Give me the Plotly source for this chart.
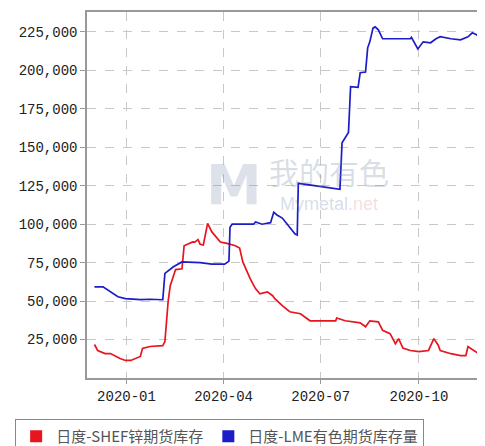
import plotly.graph_objects as go

lme_dates = ["2019-12-02","2019-12-10","2019-12-24","2019-12-31","2020-01-14","2020-01-23","2020-02-04",
             "2020-02-06","2020-02-14","2020-02-22","2020-03-10","2020-03-21","2020-04-02","2020-04-06",
             "2020-04-07","2020-04-09","2020-04-29","2020-05-01","2020-05-07","2020-05-15","2020-05-18",
             "2020-05-21","2020-05-26","2020-06-02","2020-06-07","2020-06-09","2020-06-10","2020-07-19",
             "2020-07-21","2020-07-27","2020-07-29","2020-08-05","2020-08-07","2020-08-12","2020-08-14",
             "2020-08-16","2020-08-19","2020-08-21","2020-08-24","2020-08-28","2020-09-23","2020-09-24",
             "2020-09-30","2020-10-05","2020-10-12","2020-10-17","2020-10-21","2020-10-31","2020-11-09",
             "2020-11-16","2020-11-20","2020-11-24","2020-11-26"]
lme_values = [59300,59300,52800,51600,51000,51200,50900,
              68000,72300,75500,75000,74000,74000,76000,
              98000,100000,100000,101500,100000,101000,107800,
              106000,104000,98000,93600,93000,126600,122700,
              153000,159700,189500,189000,198500,199000,214700,
              218600,227500,228300,226400,220600,220600,221500,
              214000,218600,218000,220600,221900,220600,219900,
              221900,224500,223200,222000]

shfe_dates = ["2019-12-02","2019-12-05","2019-12-12","2019-12-17","2019-12-26","2019-12-31","2020-01-05",
              "2020-01-14","2020-01-16","2020-01-23","2020-02-04","2020-02-06","2020-02-09","2020-02-11",
              "2020-02-14","2020-02-16","2020-02-22","2020-02-24","2020-03-03","2020-03-05","2020-03-08",
              "2020-03-10","2020-03-13","2020-03-17","2020-03-21","2020-03-26","2020-03-29","2020-04-04",
              "2020-04-12","2020-04-16","2020-04-19","2020-04-26","2020-05-01","2020-05-05","2020-05-12",
              "2020-05-17","2020-05-19","2020-05-26","2020-06-02","2020-06-12","2020-06-16","2020-06-21",
              "2020-07-15","2020-07-16","2020-07-24","2020-08-07","2020-08-12","2020-08-14","2020-08-16",
              "2020-08-24","2020-08-28","2020-09-04","2020-09-09","2020-09-12","2020-09-16","2020-09-23",
              "2020-10-01","2020-10-10","2020-10-15","2020-10-19","2020-10-21","2020-10-31","2020-11-09",
              "2020-11-14","2020-11-16","2020-11-20","2020-11-26"]
shfe_values = [21800,17900,15900,15900,12700,11400,11400,
               14000,19200,20500,21000,23700,49600,60000,
               66400,70500,71000,86000,88500,88400,90000,
               87000,86500,100500,95000,90400,88400,87500,
               86000,84500,75500,64500,58000,54800,56000,
               53500,51600,47000,43100,41800,39800,37200,
               37200,39000,37200,35900,33300,35000,37200,
               36500,31000,28800,22300,25600,19500,17900,
               17200,17900,25600,21500,17900,15800,14600,
               14600,20400,18500,15900]

y_ticks = [25000, 50000, 75000, 100000, 125000, 150000, 175000, 200000, 225000]
x_ticks = ["2020-01-01", "2020-04-01", "2020-07-01", "2020-10-01"]
x_labels = ["2020-01", "2020-04", "2020-07", "2020-10"]
series_names = ["日度-SHEF锌期货库存", "日度-LME有色期货库存量"]
colors = ["#e8141e", "#1c1cc8"]

fig = go.Figure()
fig.add_trace(go.Scatter(x=shfe_dates, y=shfe_values, mode="lines",
                         line=dict(color=colors[0], width=1.7), showlegend=False))
fig.add_trace(go.Scatter(x=lme_dates, y=lme_values, mode="lines",
                         line=dict(color=colors[1], width=1.7), showlegend=False))
for name, c in zip(series_names, colors):
    fig.add_trace(go.Scatter(x=[None], y=[None], mode="markers", name=name,
                             marker=dict(symbol="square", size=13, color=c)))

wm = [
    dict(text="我的有色", x=0.61, y=0.565, font=dict(size=30, color="rgba(120,135,160,0.28)",
                                                  family="Noto Sans CJK SC")),
    dict(text="<span style='color:rgba(110,140,190,0.30)'>Mymetal</span><span style='color:rgba(220,120,120,0.25)'>.net</span>",
         x=0.61, y=0.475, font=dict(size=18, family="Arial")),
    dict(text="<b>M</b>", x=0.295, y=0.53, font=dict(size=56, color="rgba(120,140,170,0.25)",
                                                      family="DejaVu Sans")),
]
for a in wm:
    fig.add_annotation(xref="paper", yref="paper", showarrow=False, **a)

# page body has an 8px margin, so the figure is sized/offset to compensate
fig.update_layout(
    width=477, height=438,
    margin=dict(l=79, r=1, t=4, b=68, autoexpand=False),
    paper_bgcolor="white", plot_bgcolor="white",
    font=dict(family="Liberation Mono", size=14, color="#222"),
    legend=dict(orientation="h", x=-0.181, y=-0.112, xanchor="left", yanchor="top",
                bordercolor="#888", borderwidth=1,
                font=dict(family="Noto Sans CJK SC", size=15, color="#555"),
                itemsizing="constant", tracegroupgap=0),
)
fig.update_xaxes(range=["2019-11-25", "2020-12-01"], tickvals=x_ticks, ticktext=x_labels,
                 showgrid=True, gridcolor="#c8c8c8", griddash="dash", gridwidth=1,
                 showline=True, linecolor="#999", linewidth=1.5, mirror=True,
                 ticks="outside", ticklen=4, tickcolor="#999", zeroline=False, automargin=False,
                 tickfont=dict(family="Liberation Mono", size=14, color="#222"))
fig.update_yaxes(range=[0, 238000], tickvals=y_ticks, tickformat=",d",
                 showgrid=True, gridcolor="#c8c8c8", griddash="dash", gridwidth=1,
                 showline=True, linecolor="#999", linewidth=1.5, mirror=False,
                 ticks="outside", ticklen=5, tickcolor="#999", zeroline=False, automargin=False,
                 tickfont=dict(family="Liberation Mono", size=14, color="#222"))

fig.write_html("out.html")
